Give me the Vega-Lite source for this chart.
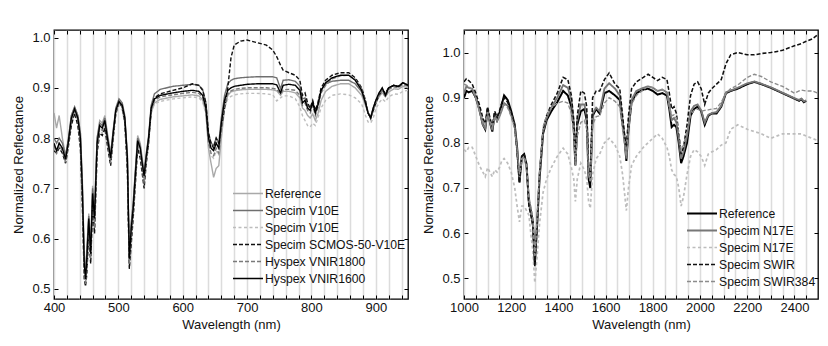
{
"$schema":"https://vega.github.io/schema/vega-lite/v6.json",
"padding":{"left":12,"top":28,"right":6,"bottom":4},
"background":"white",
"config":{
 "font":"Liberation Sans",
 "view":{"stroke":"#000","strokeWidth":1.3},
 "concat":{"spacing":12},
 "axis":{"labelFont":"Liberation Sans","titleFont":"Liberation Sans","labelFontSize":13,"titleFontSize":13,"titleFontWeight":"normal","labelColor":"#111","titleColor":"#111","domain":false,"tickColor":"#000","tickSize":-4,"tickWidth":1,"gridColor":"#dcdcdc","gridWidth":1.5,"labelOverlap":false,"labelFlush":false},
 "legend":{"orient":"none","title":null,"symbolType":"M-1,0H3","symbolSize":225,"symbolStrokeWidth":1.5,"labelFont":"Liberation Sans","labelFontSize":12.2,"labelColor":"#111","labelOffset":16,"padding":0,"rowPadding":2}
},
"datasets":{
"left":[
{"s":"a","x":400,"y":0.850},{"s":"a","x":404,"y":0.820},{"s":"a","x":408,"y":0.845},{"s":"a","x":413,"y":0.800},{"s":"a","x":418,"y":0.765},{"s":"a","x":422,"y":0.795},{"s":"a","x":427,"y":0.845},{"s":"a","x":432,"y":0.862},{"s":"a","x":437,"y":0.845},{"s":"a","x":441,"y":0.810},{"s":"a","x":444,"y":0.720},{"s":"a","x":447,"y":0.570},{"s":"a","x":449,"y":0.535},{"s":"a","x":451,"y":0.580},{"s":"a","x":454,"y":0.650},{"s":"a","x":457,"y":0.590},{"s":"a","x":460,"y":0.705},{"s":"a","x":463,"y":0.660},{"s":"a","x":467,"y":0.800},{"s":"a","x":471,"y":0.835},{"s":"a","x":475,"y":0.830},{"s":"a","x":479,"y":0.845},{"s":"a","x":483,"y":0.810},{"s":"a","x":488,"y":0.770},{"s":"a","x":492,"y":0.815},{"s":"a","x":496,"y":0.855},{"s":"a","x":501,"y":0.872},{"s":"a","x":506,"y":0.862},{"s":"a","x":510,"y":0.840},{"s":"a","x":514,"y":0.770},{"s":"a","x":517,"y":0.545},{"s":"a","x":520,"y":0.630},{"s":"a","x":523,"y":0.670},{"s":"a","x":526,"y":0.730},{"s":"a","x":530,"y":0.805},{"s":"a","x":534,"y":0.790},{"s":"a","x":537,"y":0.760},{"s":"a","x":540,"y":0.735},{"s":"a","x":543,"y":0.765},{"s":"a","x":547,"y":0.800},{"s":"a","x":551,"y":0.850},{"s":"a","x":556,"y":0.870},{"s":"a","x":565,"y":0.877},{"s":"a","x":585,"y":0.882},{"s":"a","x":600,"y":0.884},{"s":"a","x":615,"y":0.886},{"s":"a","x":625,"y":0.884},{"s":"a","x":631,"y":0.876},{"s":"a","x":636,"y":0.850},{"s":"a","x":640,"y":0.780},{"s":"a","x":644,"y":0.750},{"s":"a","x":648,"y":0.722},{"s":"a","x":652,"y":0.740},{"s":"a","x":656,"y":0.745},{"s":"a","x":660,"y":0.800},{"s":"a","x":665,"y":0.860},{"s":"a","x":670,"y":0.885},{"s":"a","x":675,"y":0.892},{"s":"a","x":680,"y":0.894},{"s":"a","x":690,"y":0.896},{"s":"a","x":700,"y":0.897},{"s":"a","x":715,"y":0.897},{"s":"a","x":730,"y":0.897},{"s":"a","x":740,"y":0.896},{"s":"a","x":746,"y":0.894},{"s":"a","x":752,"y":0.885},{"s":"a","x":756,"y":0.893},{"s":"a","x":765,"y":0.893},{"s":"a","x":775,"y":0.890},{"s":"a","x":782,"y":0.880},{"s":"a","x":786,"y":0.860},{"s":"a","x":790,"y":0.855},{"s":"a","x":794,"y":0.845},{"s":"a","x":798,"y":0.840},{"s":"a","x":802,"y":0.848},{"s":"a","x":806,"y":0.835},{"s":"a","x":810,"y":0.848},{"s":"a","x":815,"y":0.875},{"s":"a","x":822,"y":0.893},{"s":"a","x":832,"y":0.903},{"s":"a","x":845,"y":0.908},{"s":"a","x":858,"y":0.908},{"s":"a","x":868,"y":0.900},{"s":"a","x":878,"y":0.885},{"s":"a","x":884,"y":0.865},{"s":"a","x":888,"y":0.850},{"s":"a","x":892,"y":0.842},{"s":"a","x":896,"y":0.858},{"s":"a","x":900,"y":0.870},{"s":"a","x":905,"y":0.882},{"s":"a","x":910,"y":0.890},{"s":"a","x":915,"y":0.882},{"s":"a","x":920,"y":0.892},{"s":"a","x":928,"y":0.898},{"s":"a","x":935,"y":0.897},{"s":"a","x":942,"y":0.903},{"s":"a","x":950,"y":0.900},
{"s":"b","x":400,"y":0.800},{"s":"b","x":404,"y":0.790},{"s":"b","x":408,"y":0.800},{"s":"b","x":413,"y":0.790},{"s":"b","x":418,"y":0.765},{"s":"b","x":422,"y":0.795},{"s":"b","x":427,"y":0.845},{"s":"b","x":432,"y":0.862},{"s":"b","x":437,"y":0.845},{"s":"b","x":441,"y":0.810},{"s":"b","x":444,"y":0.710},{"s":"b","x":447,"y":0.560},{"s":"b","x":449,"y":0.530},{"s":"b","x":451,"y":0.570},{"s":"b","x":454,"y":0.645},{"s":"b","x":457,"y":0.580},{"s":"b","x":460,"y":0.700},{"s":"b","x":463,"y":0.650},{"s":"b","x":467,"y":0.800},{"s":"b","x":471,"y":0.830},{"s":"b","x":475,"y":0.825},{"s":"b","x":479,"y":0.840},{"s":"b","x":483,"y":0.805},{"s":"b","x":488,"y":0.765},{"s":"b","x":492,"y":0.815},{"s":"b","x":496,"y":0.860},{"s":"b","x":501,"y":0.878},{"s":"b","x":506,"y":0.870},{"s":"b","x":510,"y":0.845},{"s":"b","x":514,"y":0.765},{"s":"b","x":517,"y":0.570},{"s":"b","x":520,"y":0.630},{"s":"b","x":523,"y":0.670},{"s":"b","x":526,"y":0.725},{"s":"b","x":530,"y":0.800},{"s":"b","x":534,"y":0.785},{"s":"b","x":537,"y":0.755},{"s":"b","x":540,"y":0.730},{"s":"b","x":543,"y":0.765},{"s":"b","x":547,"y":0.805},{"s":"b","x":551,"y":0.865},{"s":"b","x":556,"y":0.888},{"s":"b","x":565,"y":0.897},{"s":"b","x":585,"y":0.903},{"s":"b","x":600,"y":0.905},{"s":"b","x":615,"y":0.907},{"s":"b","x":625,"y":0.905},{"s":"b","x":631,"y":0.897},{"s":"b","x":636,"y":0.870},{"s":"b","x":640,"y":0.810},{"s":"b","x":644,"y":0.790},{"s":"b","x":648,"y":0.785},{"s":"b","x":652,"y":0.800},{"s":"b","x":656,"y":0.790},{"s":"b","x":660,"y":0.840},{"s":"b","x":665,"y":0.885},{"s":"b","x":670,"y":0.908},{"s":"b","x":675,"y":0.915},{"s":"b","x":680,"y":0.918},{"s":"b","x":690,"y":0.920},{"s":"b","x":700,"y":0.921},{"s":"b","x":715,"y":0.922},{"s":"b","x":730,"y":0.922},{"s":"b","x":740,"y":0.922},{"s":"b","x":746,"y":0.920},{"s":"b","x":752,"y":0.898},{"s":"b","x":756,"y":0.915},{"s":"b","x":765,"y":0.916},{"s":"b","x":775,"y":0.913},{"s":"b","x":782,"y":0.903},{"s":"b","x":786,"y":0.878},{"s":"b","x":790,"y":0.880},{"s":"b","x":794,"y":0.865},{"s":"b","x":798,"y":0.860},{"s":"b","x":802,"y":0.872},{"s":"b","x":806,"y":0.855},{"s":"b","x":810,"y":0.868},{"s":"b","x":815,"y":0.895},{"s":"b","x":822,"y":0.908},{"s":"b","x":832,"y":0.913},{"s":"b","x":845,"y":0.915},{"s":"b","x":858,"y":0.915},{"s":"b","x":868,"y":0.908},{"s":"b","x":878,"y":0.892},{"s":"b","x":884,"y":0.868},{"s":"b","x":888,"y":0.850},{"s":"b","x":892,"y":0.842},{"s":"b","x":896,"y":0.860},{"s":"b","x":900,"y":0.875},{"s":"b","x":905,"y":0.888},{"s":"b","x":910,"y":0.897},{"s":"b","x":915,"y":0.886},{"s":"b","x":920,"y":0.900},{"s":"b","x":928,"y":0.905},{"s":"b","x":935,"y":0.903},{"s":"b","x":942,"y":0.910},{"s":"b","x":950,"y":0.906},
{"s":"c","x":400,"y":0.780},{"s":"c","x":404,"y":0.775},{"s":"c","x":408,"y":0.790},{"s":"c","x":413,"y":0.780},{"s":"c","x":418,"y":0.755},{"s":"c","x":422,"y":0.785},{"s":"c","x":427,"y":0.830},{"s":"c","x":432,"y":0.850},{"s":"c","x":437,"y":0.830},{"s":"c","x":441,"y":0.790},{"s":"c","x":444,"y":0.690},{"s":"c","x":447,"y":0.540},{"s":"c","x":449,"y":0.515},{"s":"c","x":451,"y":0.550},{"s":"c","x":454,"y":0.630},{"s":"c","x":457,"y":0.560},{"s":"c","x":460,"y":0.680},{"s":"c","x":463,"y":0.630},{"s":"c","x":467,"y":0.780},{"s":"c","x":471,"y":0.815},{"s":"c","x":475,"y":0.810},{"s":"c","x":479,"y":0.825},{"s":"c","x":483,"y":0.790},{"s":"c","x":488,"y":0.750},{"s":"c","x":492,"y":0.800},{"s":"c","x":496,"y":0.845},{"s":"c","x":501,"y":0.865},{"s":"c","x":506,"y":0.855},{"s":"c","x":510,"y":0.830},{"s":"c","x":514,"y":0.750},{"s":"c","x":517,"y":0.555},{"s":"c","x":520,"y":0.610},{"s":"c","x":523,"y":0.650},{"s":"c","x":526,"y":0.710},{"s":"c","x":530,"y":0.785},{"s":"c","x":534,"y":0.770},{"s":"c","x":537,"y":0.740},{"s":"c","x":540,"y":0.715},{"s":"c","x":543,"y":0.750},{"s":"c","x":547,"y":0.790},{"s":"c","x":551,"y":0.850},{"s":"c","x":556,"y":0.868},{"s":"c","x":565,"y":0.873},{"s":"c","x":585,"y":0.878},{"s":"c","x":600,"y":0.880},{"s":"c","x":615,"y":0.882},{"s":"c","x":625,"y":0.880},{"s":"c","x":631,"y":0.872},{"s":"c","x":636,"y":0.848},{"s":"c","x":640,"y":0.785},{"s":"c","x":644,"y":0.765},{"s":"c","x":648,"y":0.760},{"s":"c","x":652,"y":0.775},{"s":"c","x":656,"y":0.765},{"s":"c","x":660,"y":0.815},{"s":"c","x":665,"y":0.860},{"s":"c","x":670,"y":0.878},{"s":"c","x":675,"y":0.883},{"s":"c","x":680,"y":0.886},{"s":"c","x":690,"y":0.888},{"s":"c","x":700,"y":0.889},{"s":"c","x":715,"y":0.889},{"s":"c","x":730,"y":0.888},{"s":"c","x":740,"y":0.886},{"s":"c","x":746,"y":0.874},{"s":"c","x":752,"y":0.880},{"s":"c","x":756,"y":0.884},{"s":"c","x":765,"y":0.884},{"s":"c","x":775,"y":0.878},{"s":"c","x":782,"y":0.862},{"s":"c","x":786,"y":0.845},{"s":"c","x":790,"y":0.835},{"s":"c","x":794,"y":0.825},{"s":"c","x":798,"y":0.822},{"s":"c","x":802,"y":0.830},{"s":"c","x":806,"y":0.825},{"s":"c","x":810,"y":0.840},{"s":"c","x":815,"y":0.860},{"s":"c","x":822,"y":0.875},{"s":"c","x":832,"y":0.885},{"s":"c","x":845,"y":0.888},{"s":"c","x":858,"y":0.886},{"s":"c","x":868,"y":0.880},{"s":"c","x":878,"y":0.868},{"s":"c","x":884,"y":0.845},{"s":"c","x":888,"y":0.832},{"s":"c","x":892,"y":0.830},{"s":"c","x":896,"y":0.840},{"s":"c","x":900,"y":0.858},{"s":"c","x":905,"y":0.870},{"s":"c","x":910,"y":0.878},{"s":"c","x":915,"y":0.872},{"s":"c","x":920,"y":0.882},{"s":"c","x":928,"y":0.888},{"s":"c","x":935,"y":0.887},{"s":"c","x":942,"y":0.893},{"s":"c","x":950,"y":0.895},
{"s":"d","x":400,"y":0.775},{"s":"d","x":404,"y":0.770},{"s":"d","x":408,"y":0.780},{"s":"d","x":413,"y":0.770},{"s":"d","x":418,"y":0.750},{"s":"d","x":422,"y":0.780},{"s":"d","x":427,"y":0.825},{"s":"d","x":432,"y":0.850},{"s":"d","x":437,"y":0.825},{"s":"d","x":441,"y":0.780},{"s":"d","x":444,"y":0.670},{"s":"d","x":447,"y":0.520},{"s":"d","x":449,"y":0.505},{"s":"d","x":451,"y":0.530},{"s":"d","x":454,"y":0.610},{"s":"d","x":457,"y":0.550},{"s":"d","x":460,"y":0.665},{"s":"d","x":463,"y":0.610},{"s":"d","x":467,"y":0.770},{"s":"d","x":471,"y":0.810},{"s":"d","x":475,"y":0.805},{"s":"d","x":479,"y":0.820},{"s":"d","x":483,"y":0.785},{"s":"d","x":488,"y":0.745},{"s":"d","x":492,"y":0.800},{"s":"d","x":496,"y":0.850},{"s":"d","x":501,"y":0.870},{"s":"d","x":506,"y":0.862},{"s":"d","x":510,"y":0.830},{"s":"d","x":514,"y":0.735},{"s":"d","x":517,"y":0.540},{"s":"d","x":520,"y":0.590},{"s":"d","x":523,"y":0.640},{"s":"d","x":526,"y":0.700},{"s":"d","x":530,"y":0.780},{"s":"d","x":534,"y":0.760},{"s":"d","x":537,"y":0.730},{"s":"d","x":540,"y":0.700},{"s":"d","x":543,"y":0.745},{"s":"d","x":547,"y":0.790},{"s":"d","x":551,"y":0.855},{"s":"d","x":556,"y":0.880},{"s":"d","x":565,"y":0.888},{"s":"d","x":585,"y":0.895},{"s":"d","x":600,"y":0.900},{"s":"d","x":615,"y":0.908},{"s":"d","x":625,"y":0.905},{"s":"d","x":631,"y":0.895},{"s":"d","x":636,"y":0.870},{"s":"d","x":640,"y":0.810},{"s":"d","x":644,"y":0.790},{"s":"d","x":648,"y":0.780},{"s":"d","x":652,"y":0.800},{"s":"d","x":656,"y":0.790},{"s":"d","x":660,"y":0.820},{"s":"d","x":665,"y":0.860},{"s":"d","x":670,"y":0.900},{"s":"d","x":675,"y":0.960},{"s":"d","x":680,"y":0.985},{"s":"d","x":690,"y":0.993},{"s":"d","x":700,"y":0.995},{"s":"d","x":715,"y":0.990},{"s":"d","x":730,"y":0.985},{"s":"d","x":740,"y":0.975},{"s":"d","x":746,"y":0.962},{"s":"d","x":752,"y":0.945},{"s":"d","x":756,"y":0.935},{"s":"d","x":765,"y":0.930},{"s":"d","x":775,"y":0.925},{"s":"d","x":782,"y":0.915},{"s":"d","x":786,"y":0.885},{"s":"d","x":790,"y":0.890},{"s":"d","x":794,"y":0.870},{"s":"d","x":798,"y":0.860},{"s":"d","x":802,"y":0.875},{"s":"d","x":806,"y":0.855},{"s":"d","x":810,"y":0.870},{"s":"d","x":815,"y":0.900},{"s":"d","x":822,"y":0.915},{"s":"d","x":832,"y":0.925},{"s":"d","x":845,"y":0.930},{"s":"d","x":858,"y":0.930},{"s":"d","x":868,"y":0.920},{"s":"d","x":878,"y":0.900},{"s":"d","x":884,"y":0.875},{"s":"d","x":888,"y":0.850},{"s":"d","x":892,"y":0.840},{"s":"d","x":896,"y":0.855},{"s":"d","x":900,"y":0.870},{"s":"d","x":905,"y":0.885},{"s":"d","x":910,"y":0.895},{"s":"d","x":915,"y":0.890},{"s":"d","x":920,"y":0.900},{"s":"d","x":928,"y":0.905},{"s":"d","x":935,"y":0.903},{"s":"d","x":942,"y":0.910},{"s":"d","x":950,"y":0.905},
{"s":"e","x":400,"y":0.785},{"s":"e","x":404,"y":0.770},{"s":"e","x":408,"y":0.785},{"s":"e","x":413,"y":0.775},{"s":"e","x":418,"y":0.752},{"s":"e","x":422,"y":0.785},{"s":"e","x":427,"y":0.835},{"s":"e","x":432,"y":0.855},{"s":"e","x":437,"y":0.835},{"s":"e","x":441,"y":0.790},{"s":"e","x":444,"y":0.680},{"s":"e","x":447,"y":0.530},{"s":"e","x":449,"y":0.510},{"s":"e","x":451,"y":0.540},{"s":"e","x":454,"y":0.620},{"s":"e","x":457,"y":0.560},{"s":"e","x":460,"y":0.680},{"s":"e","x":463,"y":0.620},{"s":"e","x":467,"y":0.780},{"s":"e","x":471,"y":0.820},{"s":"e","x":475,"y":0.815},{"s":"e","x":479,"y":0.830},{"s":"e","x":483,"y":0.795},{"s":"e","x":488,"y":0.750},{"s":"e","x":492,"y":0.805},{"s":"e","x":496,"y":0.850},{"s":"e","x":501,"y":0.870},{"s":"e","x":506,"y":0.862},{"s":"e","x":510,"y":0.835},{"s":"e","x":514,"y":0.745},{"s":"e","x":517,"y":0.550},{"s":"e","x":520,"y":0.605},{"s":"e","x":523,"y":0.650},{"s":"e","x":526,"y":0.705},{"s":"e","x":530,"y":0.790},{"s":"e","x":534,"y":0.770},{"s":"e","x":537,"y":0.740},{"s":"e","x":540,"y":0.710},{"s":"e","x":543,"y":0.750},{"s":"e","x":547,"y":0.795},{"s":"e","x":551,"y":0.855},{"s":"e","x":556,"y":0.875},{"s":"e","x":565,"y":0.882},{"s":"e","x":585,"y":0.886},{"s":"e","x":600,"y":0.889},{"s":"e","x":615,"y":0.891},{"s":"e","x":625,"y":0.889},{"s":"e","x":631,"y":0.881},{"s":"e","x":636,"y":0.855},{"s":"e","x":640,"y":0.790},{"s":"e","x":644,"y":0.770},{"s":"e","x":648,"y":0.765},{"s":"e","x":652,"y":0.780},{"s":"e","x":656,"y":0.770},{"s":"e","x":660,"y":0.820},{"s":"e","x":665,"y":0.865},{"s":"e","x":670,"y":0.888},{"s":"e","x":675,"y":0.894},{"s":"e","x":680,"y":0.897},{"s":"e","x":690,"y":0.899},{"s":"e","x":700,"y":0.900},{"s":"e","x":715,"y":0.900},{"s":"e","x":730,"y":0.900},{"s":"e","x":740,"y":0.899},{"s":"e","x":746,"y":0.897},{"s":"e","x":752,"y":0.888},{"s":"e","x":756,"y":0.896},{"s":"e","x":765,"y":0.897},{"s":"e","x":775,"y":0.895},{"s":"e","x":782,"y":0.885},{"s":"e","x":786,"y":0.865},{"s":"e","x":790,"y":0.870},{"s":"e","x":794,"y":0.855},{"s":"e","x":798,"y":0.850},{"s":"e","x":802,"y":0.865},{"s":"e","x":806,"y":0.845},{"s":"e","x":810,"y":0.860},{"s":"e","x":815,"y":0.890},{"s":"e","x":822,"y":0.905},{"s":"e","x":832,"y":0.918},{"s":"e","x":845,"y":0.924},{"s":"e","x":858,"y":0.925},{"s":"e","x":868,"y":0.917},{"s":"e","x":878,"y":0.898},{"s":"e","x":884,"y":0.873},{"s":"e","x":888,"y":0.850},{"s":"e","x":892,"y":0.838},{"s":"e","x":896,"y":0.855},{"s":"e","x":900,"y":0.870},{"s":"e","x":905,"y":0.885},{"s":"e","x":910,"y":0.895},{"s":"e","x":915,"y":0.882},{"s":"e","x":920,"y":0.897},{"s":"e","x":928,"y":0.902},{"s":"e","x":935,"y":0.900},{"s":"e","x":942,"y":0.907},{"s":"e","x":950,"y":0.903},
{"s":"f","x":400,"y":0.790},{"s":"f","x":404,"y":0.775},{"s":"f","x":408,"y":0.790},{"s":"f","x":413,"y":0.780},{"s":"f","x":418,"y":0.758},{"s":"f","x":422,"y":0.790},{"s":"f","x":427,"y":0.840},{"s":"f","x":432,"y":0.858},{"s":"f","x":437,"y":0.840},{"s":"f","x":441,"y":0.800},{"s":"f","x":444,"y":0.700},{"s":"f","x":447,"y":0.550},{"s":"f","x":449,"y":0.520},{"s":"f","x":451,"y":0.560},{"s":"f","x":454,"y":0.640},{"s":"f","x":457,"y":0.570},{"s":"f","x":460,"y":0.690},{"s":"f","x":463,"y":0.640},{"s":"f","x":467,"y":0.790},{"s":"f","x":471,"y":0.825},{"s":"f","x":475,"y":0.820},{"s":"f","x":479,"y":0.835},{"s":"f","x":483,"y":0.800},{"s":"f","x":488,"y":0.760},{"s":"f","x":492,"y":0.810},{"s":"f","x":496,"y":0.855},{"s":"f","x":501,"y":0.873},{"s":"f","x":506,"y":0.865},{"s":"f","x":510,"y":0.840},{"s":"f","x":514,"y":0.760},{"s":"f","x":517,"y":0.560},{"s":"f","x":520,"y":0.620},{"s":"f","x":523,"y":0.660},{"s":"f","x":526,"y":0.720},{"s":"f","x":530,"y":0.795},{"s":"f","x":534,"y":0.780},{"s":"f","x":537,"y":0.750},{"s":"f","x":540,"y":0.725},{"s":"f","x":543,"y":0.760},{"s":"f","x":547,"y":0.800},{"s":"f","x":551,"y":0.860},{"s":"f","x":556,"y":0.878},{"s":"f","x":565,"y":0.885},{"s":"f","x":585,"y":0.890},{"s":"f","x":600,"y":0.893},{"s":"f","x":615,"y":0.895},{"s":"f","x":625,"y":0.893},{"s":"f","x":631,"y":0.885},{"s":"f","x":636,"y":0.860},{"s":"f","x":640,"y":0.800},{"s":"f","x":644,"y":0.780},{"s":"f","x":648,"y":0.775},{"s":"f","x":652,"y":0.790},{"s":"f","x":656,"y":0.780},{"s":"f","x":660,"y":0.830},{"s":"f","x":665,"y":0.875},{"s":"f","x":670,"y":0.895},{"s":"f","x":675,"y":0.900},{"s":"f","x":680,"y":0.903},{"s":"f","x":690,"y":0.905},{"s":"f","x":700,"y":0.907},{"s":"f","x":715,"y":0.908},{"s":"f","x":730,"y":0.908},{"s":"f","x":740,"y":0.908},{"s":"f","x":746,"y":0.906},{"s":"f","x":752,"y":0.890},{"s":"f","x":756,"y":0.905},{"s":"f","x":765,"y":0.907},{"s":"f","x":775,"y":0.905},{"s":"f","x":782,"y":0.895},{"s":"f","x":786,"y":0.870},{"s":"f","x":790,"y":0.875},{"s":"f","x":794,"y":0.860},{"s":"f","x":798,"y":0.855},{"s":"f","x":802,"y":0.870},{"s":"f","x":806,"y":0.850},{"s":"f","x":810,"y":0.865},{"s":"f","x":815,"y":0.895},{"s":"f","x":822,"y":0.910},{"s":"f","x":832,"y":0.920},{"s":"f","x":845,"y":0.925},{"s":"f","x":858,"y":0.925},{"s":"f","x":868,"y":0.915},{"s":"f","x":878,"y":0.895},{"s":"f","x":884,"y":0.870},{"s":"f","x":888,"y":0.850},{"s":"f","x":892,"y":0.840},{"s":"f","x":896,"y":0.860},{"s":"f","x":900,"y":0.875},{"s":"f","x":905,"y":0.890},{"s":"f","x":910,"y":0.900},{"s":"f","x":915,"y":0.885},{"s":"f","x":920,"y":0.900},{"s":"f","x":928,"y":0.905},{"s":"f","x":935,"y":0.902},{"s":"f","x":942,"y":0.910},{"s":"f","x":950,"y":0.905}
],
"right":[
{"s":"a","x":1000,"y":0.900},{"s":"a","x":1010,"y":0.915},{"s":"a","x":1020,"y":0.912},{"s":"a","x":1035,"y":0.915},{"s":"a","x":1050,"y":0.900},{"s":"a","x":1065,"y":0.875},{"s":"a","x":1080,"y":0.840},{"s":"a","x":1090,"y":0.830},{"s":"a","x":1100,"y":0.875},{"s":"a","x":1110,"y":0.845},{"s":"a","x":1120,"y":0.825},{"s":"a","x":1130,"y":0.865},{"s":"a","x":1140,"y":0.850},{"s":"a","x":1150,"y":0.865},{"s":"a","x":1160,"y":0.885},{"s":"a","x":1170,"y":0.905},{"s":"a","x":1185,"y":0.895},{"s":"a","x":1200,"y":0.870},{"s":"a","x":1215,"y":0.840},{"s":"a","x":1225,"y":0.790},{"s":"a","x":1235,"y":0.712},{"s":"a","x":1245,"y":0.770},{"s":"a","x":1255,"y":0.775},{"s":"a","x":1265,"y":0.750},{"s":"a","x":1275,"y":0.670},{"s":"a","x":1285,"y":0.645},{"s":"a","x":1292,"y":0.625},{"s":"a","x":1300,"y":0.530},{"s":"a","x":1310,"y":0.620},{"s":"a","x":1320,"y":0.720},{"s":"a","x":1335,"y":0.820},{"s":"a","x":1350,"y":0.850},{"s":"a","x":1370,"y":0.870},{"s":"a","x":1395,"y":0.890},{"s":"a","x":1420,"y":0.915},{"s":"a","x":1440,"y":0.905},{"s":"a","x":1455,"y":0.880},{"s":"a","x":1465,"y":0.830},{"s":"a","x":1472,"y":0.750},{"s":"a","x":1480,"y":0.840},{"s":"a","x":1495,"y":0.870},{"s":"a","x":1510,"y":0.875},{"s":"a","x":1520,"y":0.850},{"s":"a","x":1528,"y":0.720},{"s":"a","x":1535,"y":0.700},{"s":"a","x":1545,"y":0.860},{"s":"a","x":1560,"y":0.875},{"s":"a","x":1575,"y":0.865},{"s":"a","x":1595,"y":0.910},{"s":"a","x":1615,"y":0.915},{"s":"a","x":1640,"y":0.905},{"s":"a","x":1660,"y":0.895},{"s":"a","x":1672,"y":0.840},{"s":"a","x":1680,"y":0.810},{"s":"a","x":1688,"y":0.760},{"s":"a","x":1697,"y":0.830},{"s":"a","x":1710,"y":0.890},{"s":"a","x":1730,"y":0.910},{"s":"a","x":1760,"y":0.918},{"s":"a","x":1780,"y":0.920},{"s":"a","x":1800,"y":0.915},{"s":"a","x":1820,"y":0.907},{"s":"a","x":1840,"y":0.910},{"s":"a","x":1860,"y":0.905},{"s":"a","x":1870,"y":0.875},{"s":"a","x":1880,"y":0.835},{"s":"a","x":1890,"y":0.840},{"s":"a","x":1900,"y":0.835},{"s":"a","x":1910,"y":0.800},{"s":"a","x":1920,"y":0.755},{"s":"a","x":1930,"y":0.770},{"s":"a","x":1945,"y":0.800},{"s":"a","x":1960,"y":0.860},{"s":"a","x":1975,"y":0.875},{"s":"a","x":1990,"y":0.880},{"s":"a","x":2005,"y":0.870},{"s":"a","x":2020,"y":0.840},{"s":"a","x":2035,"y":0.860},{"s":"a","x":2050,"y":0.865},{"s":"a","x":2070,"y":0.865},{"s":"a","x":2090,"y":0.880},{"s":"a","x":2110,"y":0.910},{"s":"a","x":2130,"y":0.915},{"s":"a","x":2160,"y":0.920},{"s":"a","x":2200,"y":0.930},{"s":"a","x":2230,"y":0.935},{"s":"a","x":2260,"y":0.930},{"s":"a","x":2300,"y":0.922},{"s":"a","x":2350,"y":0.910},{"s":"a","x":2400,"y":0.898},{"s":"a","x":2420,"y":0.893},{"s":"a","x":2430,"y":0.897},{"s":"a","x":2440,"y":0.890},{"s":"a","x":2450,"y":0.893},
{"s":"b","x":1000,"y":0.910},{"s":"b","x":1010,"y":0.925},{"s":"b","x":1020,"y":0.922},{"s":"b","x":1035,"y":0.920},{"s":"b","x":1050,"y":0.900},{"s":"b","x":1065,"y":0.872},{"s":"b","x":1080,"y":0.840},{"s":"b","x":1090,"y":0.832},{"s":"b","x":1100,"y":0.870},{"s":"b","x":1110,"y":0.845},{"s":"b","x":1120,"y":0.828},{"s":"b","x":1130,"y":0.860},{"s":"b","x":1140,"y":0.848},{"s":"b","x":1150,"y":0.858},{"s":"b","x":1160,"y":0.872},{"s":"b","x":1170,"y":0.888},{"s":"b","x":1185,"y":0.882},{"s":"b","x":1200,"y":0.862},{"s":"b","x":1215,"y":0.835},{"s":"b","x":1225,"y":0.785},{"s":"b","x":1235,"y":0.720},{"s":"b","x":1245,"y":0.765},{"s":"b","x":1255,"y":0.770},{"s":"b","x":1265,"y":0.745},{"s":"b","x":1275,"y":0.665},{"s":"b","x":1285,"y":0.640},{"s":"b","x":1292,"y":0.615},{"s":"b","x":1300,"y":0.540},{"s":"b","x":1310,"y":0.625},{"s":"b","x":1320,"y":0.725},{"s":"b","x":1335,"y":0.825},{"s":"b","x":1350,"y":0.855},{"s":"b","x":1370,"y":0.878},{"s":"b","x":1395,"y":0.900},{"s":"b","x":1420,"y":0.928},{"s":"b","x":1440,"y":0.922},{"s":"b","x":1455,"y":0.895},{"s":"b","x":1465,"y":0.845},{"s":"b","x":1472,"y":0.765},{"s":"b","x":1480,"y":0.850},{"s":"b","x":1495,"y":0.885},{"s":"b","x":1510,"y":0.885},{"s":"b","x":1520,"y":0.860},{"s":"b","x":1528,"y":0.735},{"s":"b","x":1535,"y":0.715},{"s":"b","x":1545,"y":0.865},{"s":"b","x":1560,"y":0.878},{"s":"b","x":1575,"y":0.870},{"s":"b","x":1595,"y":0.920},{"s":"b","x":1615,"y":0.932},{"s":"b","x":1640,"y":0.920},{"s":"b","x":1660,"y":0.905},{"s":"b","x":1672,"y":0.850},{"s":"b","x":1680,"y":0.815},{"s":"b","x":1688,"y":0.765},{"s":"b","x":1697,"y":0.840},{"s":"b","x":1710,"y":0.895},{"s":"b","x":1730,"y":0.915},{"s":"b","x":1760,"y":0.922},{"s":"b","x":1780,"y":0.925},{"s":"b","x":1800,"y":0.922},{"s":"b","x":1820,"y":0.915},{"s":"b","x":1840,"y":0.918},{"s":"b","x":1860,"y":0.912},{"s":"b","x":1870,"y":0.885},{"s":"b","x":1880,"y":0.850},{"s":"b","x":1890,"y":0.855},{"s":"b","x":1900,"y":0.845},{"s":"b","x":1910,"y":0.810},{"s":"b","x":1920,"y":0.765},{"s":"b","x":1930,"y":0.780},{"s":"b","x":1945,"y":0.815},{"s":"b","x":1960,"y":0.870},{"s":"b","x":1975,"y":0.882},{"s":"b","x":1990,"y":0.885},{"s":"b","x":2005,"y":0.872},{"s":"b","x":2020,"y":0.845},{"s":"b","x":2035,"y":0.862},{"s":"b","x":2050,"y":0.866},{"s":"b","x":2070,"y":0.868},{"s":"b","x":2090,"y":0.882},{"s":"b","x":2110,"y":0.912},{"s":"b","x":2130,"y":0.916},{"s":"b","x":2160,"y":0.922},{"s":"b","x":2200,"y":0.932},{"s":"b","x":2230,"y":0.936},{"s":"b","x":2260,"y":0.931},{"s":"b","x":2300,"y":0.923},{"s":"b","x":2350,"y":0.911},{"s":"b","x":2400,"y":0.899},{"s":"b","x":2420,"y":0.895},{"s":"b","x":2430,"y":0.898},{"s":"b","x":2440,"y":0.892},{"s":"b","x":2450,"y":0.894},
{"s":"c","x":1000,"y":0.785},{"s":"c","x":1010,"y":0.780},{"s":"c","x":1020,"y":0.790},{"s":"c","x":1035,"y":0.790},{"s":"c","x":1050,"y":0.770},{"s":"c","x":1065,"y":0.750},{"s":"c","x":1080,"y":0.735},{"s":"c","x":1090,"y":0.725},{"s":"c","x":1100,"y":0.745},{"s":"c","x":1110,"y":0.735},{"s":"c","x":1120,"y":0.725},{"s":"c","x":1130,"y":0.740},{"s":"c","x":1140,"y":0.735},{"s":"c","x":1150,"y":0.745},{"s":"c","x":1160,"y":0.760},{"s":"c","x":1170,"y":0.765},{"s":"c","x":1185,"y":0.755},{"s":"c","x":1200,"y":0.735},{"s":"c","x":1215,"y":0.700},{"s":"c","x":1225,"y":0.660},{"s":"c","x":1235,"y":0.625},{"s":"c","x":1245,"y":0.660},{"s":"c","x":1255,"y":0.660},{"s":"c","x":1265,"y":0.650},{"s":"c","x":1275,"y":0.640},{"s":"c","x":1285,"y":0.590},{"s":"c","x":1292,"y":0.560},{"s":"c","x":1300,"y":0.490},{"s":"c","x":1310,"y":0.550},{"s":"c","x":1320,"y":0.620},{"s":"c","x":1335,"y":0.690},{"s":"c","x":1350,"y":0.720},{"s":"c","x":1370,"y":0.745},{"s":"c","x":1395,"y":0.770},{"s":"c","x":1420,"y":0.788},{"s":"c","x":1440,"y":0.775},{"s":"c","x":1455,"y":0.745},{"s":"c","x":1465,"y":0.720},{"s":"c","x":1472,"y":0.670},{"s":"c","x":1480,"y":0.720},{"s":"c","x":1495,"y":0.755},{"s":"c","x":1510,"y":0.740},{"s":"c","x":1520,"y":0.720},{"s":"c","x":1528,"y":0.670},{"s":"c","x":1535,"y":0.655},{"s":"c","x":1545,"y":0.730},{"s":"c","x":1560,"y":0.765},{"s":"c","x":1575,"y":0.775},{"s":"c","x":1595,"y":0.800},{"s":"c","x":1615,"y":0.810},{"s":"c","x":1640,"y":0.795},{"s":"c","x":1660,"y":0.770},{"s":"c","x":1672,"y":0.730},{"s":"c","x":1680,"y":0.690},{"s":"c","x":1688,"y":0.650},{"s":"c","x":1697,"y":0.700},{"s":"c","x":1710,"y":0.750},{"s":"c","x":1730,"y":0.770},{"s":"c","x":1760,"y":0.790},{"s":"c","x":1780,"y":0.800},{"s":"c","x":1800,"y":0.810},{"s":"c","x":1820,"y":0.820},{"s":"c","x":1840,"y":0.810},{"s":"c","x":1860,"y":0.790},{"s":"c","x":1870,"y":0.770},{"s":"c","x":1880,"y":0.740},{"s":"c","x":1890,"y":0.730},{"s":"c","x":1900,"y":0.725},{"s":"c","x":1910,"y":0.700},{"s":"c","x":1920,"y":0.660},{"s":"c","x":1930,"y":0.680},{"s":"c","x":1945,"y":0.730},{"s":"c","x":1960,"y":0.770},{"s":"c","x":1975,"y":0.785},{"s":"c","x":1990,"y":0.780},{"s":"c","x":2005,"y":0.770},{"s":"c","x":2020,"y":0.750},{"s":"c","x":2035,"y":0.775},{"s":"c","x":2050,"y":0.780},{"s":"c","x":2070,"y":0.785},{"s":"c","x":2090,"y":0.795},{"s":"c","x":2110,"y":0.800},{"s":"c","x":2130,"y":0.830},{"s":"c","x":2160,"y":0.840},{"s":"c","x":2200,"y":0.830},{"s":"c","x":2230,"y":0.825},{"s":"c","x":2260,"y":0.820},{"s":"c","x":2300,"y":0.810},{"s":"c","x":2350,"y":0.820},{"s":"c","x":2400,"y":0.820},{"s":"c","x":2430,"y":0.820},{"s":"c","x":2450,"y":0.815},{"s":"c","x":2475,"y":0.810},{"s":"c","x":2500,"y":0.805},
{"s":"d","x":1000,"y":0.935},{"s":"d","x":1010,"y":0.942},{"s":"d","x":1020,"y":0.938},{"s":"d","x":1035,"y":0.930},{"s":"d","x":1050,"y":0.910},{"s":"d","x":1065,"y":0.885},{"s":"d","x":1080,"y":0.855},{"s":"d","x":1090,"y":0.842},{"s":"d","x":1100,"y":0.880},{"s":"d","x":1110,"y":0.855},{"s":"d","x":1120,"y":0.835},{"s":"d","x":1130,"y":0.870},{"s":"d","x":1140,"y":0.858},{"s":"d","x":1150,"y":0.870},{"s":"d","x":1160,"y":0.888},{"s":"d","x":1170,"y":0.900},{"s":"d","x":1185,"y":0.890},{"s":"d","x":1200,"y":0.868},{"s":"d","x":1215,"y":0.835},{"s":"d","x":1225,"y":0.780},{"s":"d","x":1235,"y":0.712},{"s":"d","x":1245,"y":0.770},{"s":"d","x":1255,"y":0.775},{"s":"d","x":1265,"y":0.755},{"s":"d","x":1275,"y":0.660},{"s":"d","x":1285,"y":0.635},{"s":"d","x":1292,"y":0.615},{"s":"d","x":1300,"y":0.525},{"s":"d","x":1310,"y":0.620},{"s":"d","x":1320,"y":0.730},{"s":"d","x":1335,"y":0.830},{"s":"d","x":1350,"y":0.860},{"s":"d","x":1370,"y":0.885},{"s":"d","x":1395,"y":0.910},{"s":"d","x":1420,"y":0.945},{"s":"d","x":1440,"y":0.940},{"s":"d","x":1455,"y":0.905},{"s":"d","x":1465,"y":0.850},{"s":"d","x":1472,"y":0.770},{"s":"d","x":1480,"y":0.860},{"s":"d","x":1495,"y":0.915},{"s":"d","x":1510,"y":0.910},{"s":"d","x":1520,"y":0.880},{"s":"d","x":1528,"y":0.740},{"s":"d","x":1535,"y":0.720},{"s":"d","x":1545,"y":0.900},{"s":"d","x":1560,"y":0.915},{"s":"d","x":1575,"y":0.915},{"s":"d","x":1595,"y":0.940},{"s":"d","x":1615,"y":0.955},{"s":"d","x":1640,"y":0.930},{"s":"d","x":1660,"y":0.920},{"s":"d","x":1672,"y":0.860},{"s":"d","x":1680,"y":0.820},{"s":"d","x":1688,"y":0.790},{"s":"d","x":1697,"y":0.860},{"s":"d","x":1710,"y":0.920},{"s":"d","x":1730,"y":0.935},{"s":"d","x":1760,"y":0.945},{"s":"d","x":1780,"y":0.952},{"s":"d","x":1800,"y":0.945},{"s":"d","x":1820,"y":0.938},{"s":"d","x":1840,"y":0.945},{"s":"d","x":1860,"y":0.940},{"s":"d","x":1870,"y":0.910},{"s":"d","x":1880,"y":0.875},{"s":"d","x":1890,"y":0.880},{"s":"d","x":1900,"y":0.865},{"s":"d","x":1910,"y":0.820},{"s":"d","x":1920,"y":0.775},{"s":"d","x":1930,"y":0.790},{"s":"d","x":1945,"y":0.840},{"s":"d","x":1960,"y":0.905},{"s":"d","x":1975,"y":0.930},{"s":"d","x":1990,"y":0.935},{"s":"d","x":2005,"y":0.920},{"s":"d","x":2020,"y":0.885},{"s":"d","x":2035,"y":0.910},{"s":"d","x":2050,"y":0.920},{"s":"d","x":2070,"y":0.930},{"s":"d","x":2090,"y":0.940},{"s":"d","x":2110,"y":0.975},{"s":"d","x":2130,"y":0.995},{"s":"d","x":2160,"y":1.000},{"s":"d","x":2200,"y":0.995},{"s":"d","x":2230,"y":0.995},{"s":"d","x":2260,"y":0.998},{"s":"d","x":2300,"y":1.000},{"s":"d","x":2350,"y":1.005},{"s":"d","x":2400,"y":1.015},{"s":"d","x":2430,"y":1.020},{"s":"d","x":2450,"y":1.025},{"s":"d","x":2475,"y":1.030},{"s":"d","x":2500,"y":1.040},
{"s":"e","x":1000,"y":0.930},{"s":"e","x":1010,"y":0.928},{"s":"e","x":1020,"y":0.925},{"s":"e","x":1035,"y":0.918},{"s":"e","x":1050,"y":0.900},{"s":"e","x":1065,"y":0.872},{"s":"e","x":1080,"y":0.845},{"s":"e","x":1090,"y":0.838},{"s":"e","x":1100,"y":0.868},{"s":"e","x":1110,"y":0.848},{"s":"e","x":1120,"y":0.835},{"s":"e","x":1130,"y":0.858},{"s":"e","x":1140,"y":0.850},{"s":"e","x":1150,"y":0.860},{"s":"e","x":1160,"y":0.875},{"s":"e","x":1170,"y":0.885},{"s":"e","x":1185,"y":0.878},{"s":"e","x":1200,"y":0.858},{"s":"e","x":1215,"y":0.830},{"s":"e","x":1225,"y":0.785},{"s":"e","x":1235,"y":0.730},{"s":"e","x":1245,"y":0.765},{"s":"e","x":1255,"y":0.770},{"s":"e","x":1265,"y":0.750},{"s":"e","x":1275,"y":0.680},{"s":"e","x":1285,"y":0.655},{"s":"e","x":1292,"y":0.630},{"s":"e","x":1300,"y":0.550},{"s":"e","x":1310,"y":0.640},{"s":"e","x":1320,"y":0.740},{"s":"e","x":1335,"y":0.835},{"s":"e","x":1350,"y":0.860},{"s":"e","x":1370,"y":0.878},{"s":"e","x":1395,"y":0.888},{"s":"e","x":1420,"y":0.892},{"s":"e","x":1440,"y":0.888},{"s":"e","x":1455,"y":0.865},{"s":"e","x":1465,"y":0.820},{"s":"e","x":1472,"y":0.750},{"s":"e","x":1480,"y":0.815},{"s":"e","x":1495,"y":0.845},{"s":"e","x":1510,"y":0.850},{"s":"e","x":1520,"y":0.830},{"s":"e","x":1528,"y":0.730},{"s":"e","x":1535,"y":0.715},{"s":"e","x":1545,"y":0.840},{"s":"e","x":1560,"y":0.858},{"s":"e","x":1575,"y":0.860},{"s":"e","x":1595,"y":0.888},{"s":"e","x":1615,"y":0.900},{"s":"e","x":1640,"y":0.892},{"s":"e","x":1660,"y":0.880},{"s":"e","x":1672,"y":0.830},{"s":"e","x":1680,"y":0.800},{"s":"e","x":1688,"y":0.770},{"s":"e","x":1697,"y":0.830},{"s":"e","x":1710,"y":0.885},{"s":"e","x":1730,"y":0.905},{"s":"e","x":1760,"y":0.918},{"s":"e","x":1780,"y":0.925},{"s":"e","x":1800,"y":0.922},{"s":"e","x":1820,"y":0.915},{"s":"e","x":1840,"y":0.918},{"s":"e","x":1860,"y":0.910},{"s":"e","x":1870,"y":0.880},{"s":"e","x":1880,"y":0.860},{"s":"e","x":1890,"y":0.862},{"s":"e","x":1900,"y":0.855},{"s":"e","x":1910,"y":0.820},{"s":"e","x":1920,"y":0.785},{"s":"e","x":1930,"y":0.795},{"s":"e","x":1945,"y":0.825},{"s":"e","x":1960,"y":0.862},{"s":"e","x":1975,"y":0.872},{"s":"e","x":1990,"y":0.875},{"s":"e","x":2005,"y":0.870},{"s":"e","x":2020,"y":0.872},{"s":"e","x":2035,"y":0.873},{"s":"e","x":2050,"y":0.875},{"s":"e","x":2070,"y":0.876},{"s":"e","x":2090,"y":0.890},{"s":"e","x":2110,"y":0.910},{"s":"e","x":2130,"y":0.920},{"s":"e","x":2160,"y":0.928},{"s":"e","x":2200,"y":0.945},{"s":"e","x":2230,"y":0.952},{"s":"e","x":2260,"y":0.947},{"s":"e","x":2300,"y":0.935},{"s":"e","x":2350,"y":0.925},{"s":"e","x":2400,"y":0.910},{"s":"e","x":2420,"y":0.915},{"s":"e","x":2430,"y":0.917},{"s":"e","x":2450,"y":0.915},{"s":"e","x":2475,"y":0.915},{"s":"e","x":2500,"y":0.910}
]
},
"hconcat":[
{
 "width":354,"height":269,
 "data":{"name":"left"},
 "layer":[
  {"mark":{"type":"line","strokeWidth":1.4,"clip":true},
   "encoding":{
    "x":{"field":"x","type":"quantitative","scale":{"domain":[400,950],"nice":false,"zero":false},
     "axis":{"title":"Wavelength (nm)","grid":true,"values":[400,420,440,460,480,500,520,540,560,580,600,620,640,660,680,700,720,740,760,780,800,820,840,860,880,900,920,940],"labelExpr":"datum.value % 100 === 0 ? datum.label : ''","format":"d","labelPadding":6,"titlePadding":4}},
    "y":{"field":"y","type":"quantitative","scale":{"domain":[0.48,1.015],"nice":false,"zero":false},
     "axis":{"title":"Normalized Reflectance","grid":false,"values":[0.5,0.6,0.7,0.8,0.9,1.0],"format":".1f","labelPadding":8,"titlePadding":6}},
    "color":{"field":"s","type":"nominal","scale":{"domain":["a","b","c","d","e","f"],"range":["#a9a9a9","#6f6f6f","#bdbdbd","#111111","#7a7a7a","#000000"]},
     "legend":{"legendX":178,"legendY":155,"labelExpr":"datum.value == 'a' ? 'Reference' : datum.value == 'b' ? 'Specim V10E' : datum.value == 'c' ? 'Specim V10E' : datum.value == 'd' ? 'Specim SCMOS-50-V10E' : datum.value == 'e' ? 'Hyspex VNIR1800' : 'Hyspex VNIR1600'"}},
    "strokeDash":{"field":"s","type":"nominal","scale":{"domain":["a","b","c","d","e","f"],"range":[[1,0],[1,0],[3,2.5],[4,2],[4,2],[1,0]]},
     "legend":{"legendX":178,"legendY":155,"labelExpr":"datum.value == 'a' ? 'Reference' : datum.value == 'b' ? 'Specim V10E' : datum.value == 'c' ? 'Specim V10E' : datum.value == 'd' ? 'Specim SCMOS-50-V10E' : datum.value == 'e' ? 'Hyspex VNIR1800' : 'Hyspex VNIR1600'"}}
   }},
  {"mark":{"type":"line","opacity":0},
   "encoding":{
    "x":{"field":"x","type":"quantitative","axis":{"orient":"top","title":null,"labels":false,"grid":false,"values":[400,420,440,460,480,500,520,540,560,580,600,620,640,660,680,700,720,740,760,780,800,820,840,860,880,900,920,940]}},
    "y":{"field":"y","type":"quantitative","axis":{"orient":"right","title":null,"labels":false,"grid":false,"values":[0.5,0.6,0.7,0.8,0.9,1.0]}}
   }}
 ],
 "resolve":{"axis":{"x":"independent","y":"independent"}}
},
{
 "width":354,"height":269,
 "data":{"name":"right"},
 "layer":[
  {"mark":{"type":"line","clip":true},
   "encoding":{
    "x":{"field":"x","type":"quantitative","scale":{"domain":[1000,2500],"nice":false,"zero":false},
     "axis":{"title":"Wavelength (nm)","grid":true,"values":[1000,1050,1100,1150,1200,1250,1300,1350,1400,1450,1500,1550,1600,1650,1700,1750,1800,1850,1900,1950,2000,2050,2100,2150,2200,2250,2300,2350,2400,2450],"labelExpr":"datum.value % 200 === 0 ? datum.label : ''","format":"d","labelPadding":6,"titlePadding":4}},
    "y":{"field":"y","type":"quantitative","scale":{"domain":[0.454,1.05],"nice":false,"zero":false},
     "axis":{"title":"Normalized Reflectance","grid":false,"values":[0.5,0.6,0.7,0.8,0.9,1.0],"format":".1f","labelPadding":8,"titlePadding":6}},
    "color":{"field":"s","type":"nominal","scale":{"domain":["a","b","c","d","e"],"range":["#000000","#777777","#bdbdbd","#111111","#8c8c8c"]},
     "legend":{"legendX":222,"legendY":175,"labelExpr":"datum.value == 'a' ? 'Reference' : datum.value == 'b' ? 'Specim N17E' : datum.value == 'c' ? 'Specim N17E' : datum.value == 'd' ? 'Specim SWIR' : 'Specim SWIR384'"}},
    "strokeDash":{"field":"s","type":"nominal","scale":{"domain":["a","b","c","d","e"],"range":[[1,0],[1,0],[3,2.5],[4,2],[4,2]]},
     "legend":{"legendX":222,"legendY":175,"labelExpr":"datum.value == 'a' ? 'Reference' : datum.value == 'b' ? 'Specim N17E' : datum.value == 'c' ? 'Specim N17E' : datum.value == 'd' ? 'Specim SWIR' : 'Specim SWIR384'"}},
    "strokeWidth":{"field":"s","type":"ordinal","scale":{"domain":["a","b","c","d","e"],"range":[2,1.4,1.4,1.4,1.4]},"legend":null}
   }},
  {"mark":{"type":"line","opacity":0},
   "encoding":{
    "x":{"field":"x","type":"quantitative","axis":{"orient":"top","title":null,"labels":false,"grid":false,"values":[1000,1050,1100,1150,1200,1250,1300,1350,1400,1450,1500,1550,1600,1650,1700,1750,1800,1850,1900,1950,2000,2050,2100,2150,2200,2250,2300,2350,2400,2450]}},
    "y":{"field":"y","type":"quantitative","axis":{"orient":"right","title":null,"labels":false,"grid":false,"values":[0.5,0.6,0.7,0.8,0.9,1.0]}}
   }}
 ],
 "resolve":{"axis":{"x":"independent","y":"independent"}}
}
],
"resolve":{"scale":{"color":"independent","strokeDash":"independent","strokeWidth":"independent"}}
}
